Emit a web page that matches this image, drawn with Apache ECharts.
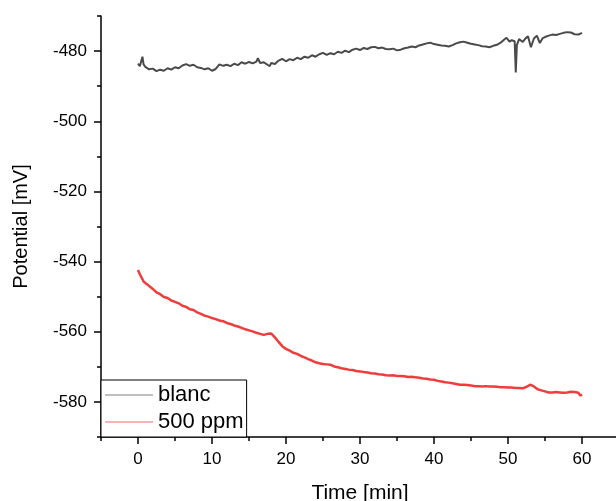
<!DOCTYPE html>
<html>
<head>
<meta charset="utf-8">
<script src="https://cdn.jsdelivr.net/npm/echarts@6/dist/echarts.min.js"></script>
<style>
html,body{margin:0;padding:0;background:#fff;}
#c{width:616px;height:501px;}
</style>
</head>
<body>
<div id="c"></div>
<script>
// ---- data ----
const seriesNames = ['blanc', '500 ppm'];
const tBlanc = [0,0.25,0.5,0.6,0.75,1,1.5,2,2.5,3,3.5,4,4.5,5,5.5,6,6.5,7,7.5,8,8.5,9,9.5,10,10.5,11,11.5,12,12.5,13,13.5,14,14.5,15,15.5,16,16.2,16.5,17,17.5,17.8,18,18.5,19,19.5,20,20.5,21,21.5,22,22.5,23,23.5,24,24.5,25,25.5,26,26.5,27,27.5,28,28.5,29,29.5,30,30.5,31,31.5,32,32.5,33,33.5,34,34.5,35,35.5,36,36.5,37,37.5,38,38.5,39,39.5,40,40.5,41,41.5,42,42.5,43,43.5,44,44.5,45,45.5,46,46.5,47,47.5,48,48.5,49,49.5,49.8,50.2,50.5,50.9,51.05,51.2,51.5,52,52.4,52.7,53.1,53.5,53.9,54.3,54.7,55,55.5,56,56.5,57,57.5,58,58.5,59,59.5,60];
const vBlanc = [-483.6,-484.3,-483.9,-481.6,-483.8,-484.5,-485.2,-485.0,-485.7,-485.3,-485.6,-484.9,-485.3,-484.6,-484.9,-484.1,-483.7,-484.2,-483.9,-484.6,-484.8,-485.2,-484.9,-485.6,-485.1,-483.8,-484.2,-483.9,-484.3,-483.6,-484.0,-483.2,-483.6,-483.1,-483.5,-483.0,-482.0,-483.4,-483.2,-483.9,-484.3,-483.4,-483.7,-482.7,-482.2,-482.9,-482.3,-482.6,-481.9,-482.3,-481.6,-481.9,-481.2,-481.6,-480.9,-480.5,-481.1,-480.6,-480.9,-480.2,-480.5,-479.9,-480.3,-479.6,-479.3,-479.7,-479.1,-479.4,-478.9,-478.8,-479.2,-479.0,-479.4,-479.5,-479.3,-479.8,-479.6,-479.2,-479.0,-478.7,-478.9,-478.4,-478.1,-477.8,-477.6,-478.0,-478.2,-478.4,-478.5,-478.7,-478.3,-477.8,-477.5,-477.3,-477.6,-477.9,-478.1,-478.3,-478.6,-478.7,-478.9,-478.5,-478.2,-477.6,-476.7,-476.2,-477.3,-476.9,-477.2,-486.1,-478.2,-476.6,-477.4,-476.3,-475.8,-478.9,-476.4,-475.6,-477.7,-476.3,-476.0,-475.6,-475.3,-475.4,-475.1,-474.8,-474.6,-474.7,-475.2,-475.3,-474.8];
const tPpm = [0,0.25,0.5,0.75,1,1.25,1.5,2,2.5,3,3.5,4,4.5,5,5.5,6,6.5,7,7.5,8,8.5,9,9.5,10,10.5,11,11.5,12,12.5,13,13.5,14,14.5,15,15.5,16,16.5,17,17.5,18,18.5,19,19.5,20,20.5,21,21.5,22,22.5,23,23.5,24,24.5,25,25.5,26,26.5,27,27.5,28,28.5,29,29.5,30,30.5,31,31.5,32,32.5,33,33.5,34,34.5,35,35.5,36,36.5,37,37.5,38,38.5,39,39.5,40,40.5,41,41.5,42,42.5,43,43.5,44,44.5,45,45.5,46,46.5,47,47.5,48,48.5,49,49.5,50,50.5,51,51.5,52,52.5,53,53.5,54,54.5,55,55.5,56,56.5,57,57.5,58,58.5,59,59.5,59.8,60];
const vPpm = [-542.4,-543.6,-544.6,-545.7,-545.9,-546.5,-546.9,-547.8,-548.8,-549.3,-550.1,-550.4,-551.1,-551.5,-551.9,-552.6,-552.9,-553.6,-553.8,-554.5,-554.9,-555.4,-555.7,-556.1,-556.4,-556.8,-557.0,-557.5,-557.8,-558.2,-558.5,-558.9,-559.3,-559.6,-559.9,-560.3,-560.6,-560.9,-560.6,-560.5,-561.6,-562.9,-564.1,-564.9,-565.4,-566.0,-566.3,-566.9,-567.3,-567.8,-568.2,-568.7,-569.0,-569.2,-569.3,-569.4,-569.9,-570.1,-570.4,-570.6,-570.8,-570.9,-571.2,-571.3,-571.5,-571.6,-571.8,-571.9,-572.1,-572.2,-572.4,-572.5,-572.4,-572.6,-572.6,-572.7,-572.9,-572.8,-573.0,-573.1,-573.3,-573.4,-573.6,-573.7,-574.0,-574.2,-574.4,-574.5,-574.7,-574.9,-575.1,-575.1,-575.2,-575.3,-575.5,-575.5,-575.6,-575.5,-575.6,-575.6,-575.7,-575.8,-575.8,-575.9,-575.9,-576.0,-576.0,-576.1,-575.7,-575.1,-575.6,-576.4,-576.7,-577.0,-577.3,-577.3,-577.2,-577.3,-577.4,-577.3,-577.1,-577.2,-577.4,-578.2,-577.9];
const xMajorTicks = [0,10,20,30,40,50,60];
const xMinorTicks = [-5,5,15,25,35,45,55,65];
const yMajorTicks = [-580,-560,-540,-520,-500,-480];
const yMinorTicks = [-590,-570,-550,-530,-510,-490,-470];

const pairs = (t, v) => t.map((x, i) => [x, v[i]]);
const FONT = 'Liberation Sans';

const chart = echarts.init(document.getElementById('c'), null, {renderer: 'canvas'});
const axisLine = {show: true, onZero: false, lineStyle: {color: '#000', width: 1.5}};
const hiddenLine = {show: false, onZero: false};
chart.setOption({
  animation: false,
  backgroundColor: '#fff',
  textStyle: {fontFamily: FONT},
  grid: {left: 101, top: 16, width: 518, height: 421, containLabel: false, outerBoundsMode: 'none'},
  legend: {
    orient: 'vertical', left: 101, top: 380,
    data: [
      {name: seriesNames[0], icon: 'rect', itemStyle: {color: '#808080'}},
      {name: seriesNames[1], icon: 'rect', itemStyle: {color: '#f26a6a'}}
    ],
    backgroundColor: '#fff', borderColor: '#000', borderWidth: 1,
    padding: [4, 3, 4, 4], itemGap: 5, itemWidth: 48, itemHeight: 1.2,
    textStyle: {fontFamily: FONT, fontSize: 22, color: '#000'},
    z: 10
  },
  xAxis: [
    {type: 'value', position: 'bottom', min: -5, max: 65,
     name: 'Time [min]', nameLocation: 'middle', nameGap: 46,
     nameTextStyle: {fontFamily: FONT, fontSize: 21, color: '#000'},
     axisLine: axisLine,
     axisTick: {show: true, customValues: xMajorTicks, length: 7, lineStyle: {color: '#000', width: 1.5}},
     axisLabel: {customValues: xMajorTicks, fontFamily: FONT, fontSize: 17, color: '#000', margin: 14},
     splitLine: {show: false}},
    {type: 'value', position: 'bottom', min: -5, max: 65,
     axisLine: hiddenLine,
     axisTick: {show: true, customValues: xMinorTicks, length: 4, lineStyle: {color: '#000', width: 1.5}},
     axisLabel: {show: false}, splitLine: {show: false}}
  ],
  yAxis: [
    {type: 'value', position: 'left', min: -590, max: -470,
     name: 'Potential [mV]', nameLocation: 'middle', nameGap: 70, nameRotate: 90,
     nameTextStyle: {fontFamily: FONT, fontSize: 20, color: '#000'},
     axisLine: axisLine,
     axisTick: {show: true, customValues: yMajorTicks, length: 7, lineStyle: {color: '#000', width: 1.5}},
     axisLabel: {customValues: yMajorTicks, fontFamily: FONT, fontSize: 17, color: '#000', margin: 14},
     splitLine: {show: false}},
    {type: 'value', position: 'left', min: -590, max: -470,
     axisLine: hiddenLine,
     axisTick: {show: true, customValues: yMinorTicks, length: 4, lineStyle: {color: '#000', width: 1.5}},
     axisLabel: {show: false}, splitLine: {show: false}}
  ],
  series: [
    {name: seriesNames[0], type: 'line', data: pairs(tBlanc, vBlanc), showSymbol: false, symbol: 'none',
     color: '#4a4a4a', lineStyle: {color: '#4a4a4a', width: 2}},
    {name: seriesNames[1], type: 'line', data: pairs(tPpm, vPpm), showSymbol: false, symbol: 'none',
     color: '#f03c3c', lineStyle: {color: '#f03c3c', width: 2.5}}
  ]
});
</script>
</body>
</html>
